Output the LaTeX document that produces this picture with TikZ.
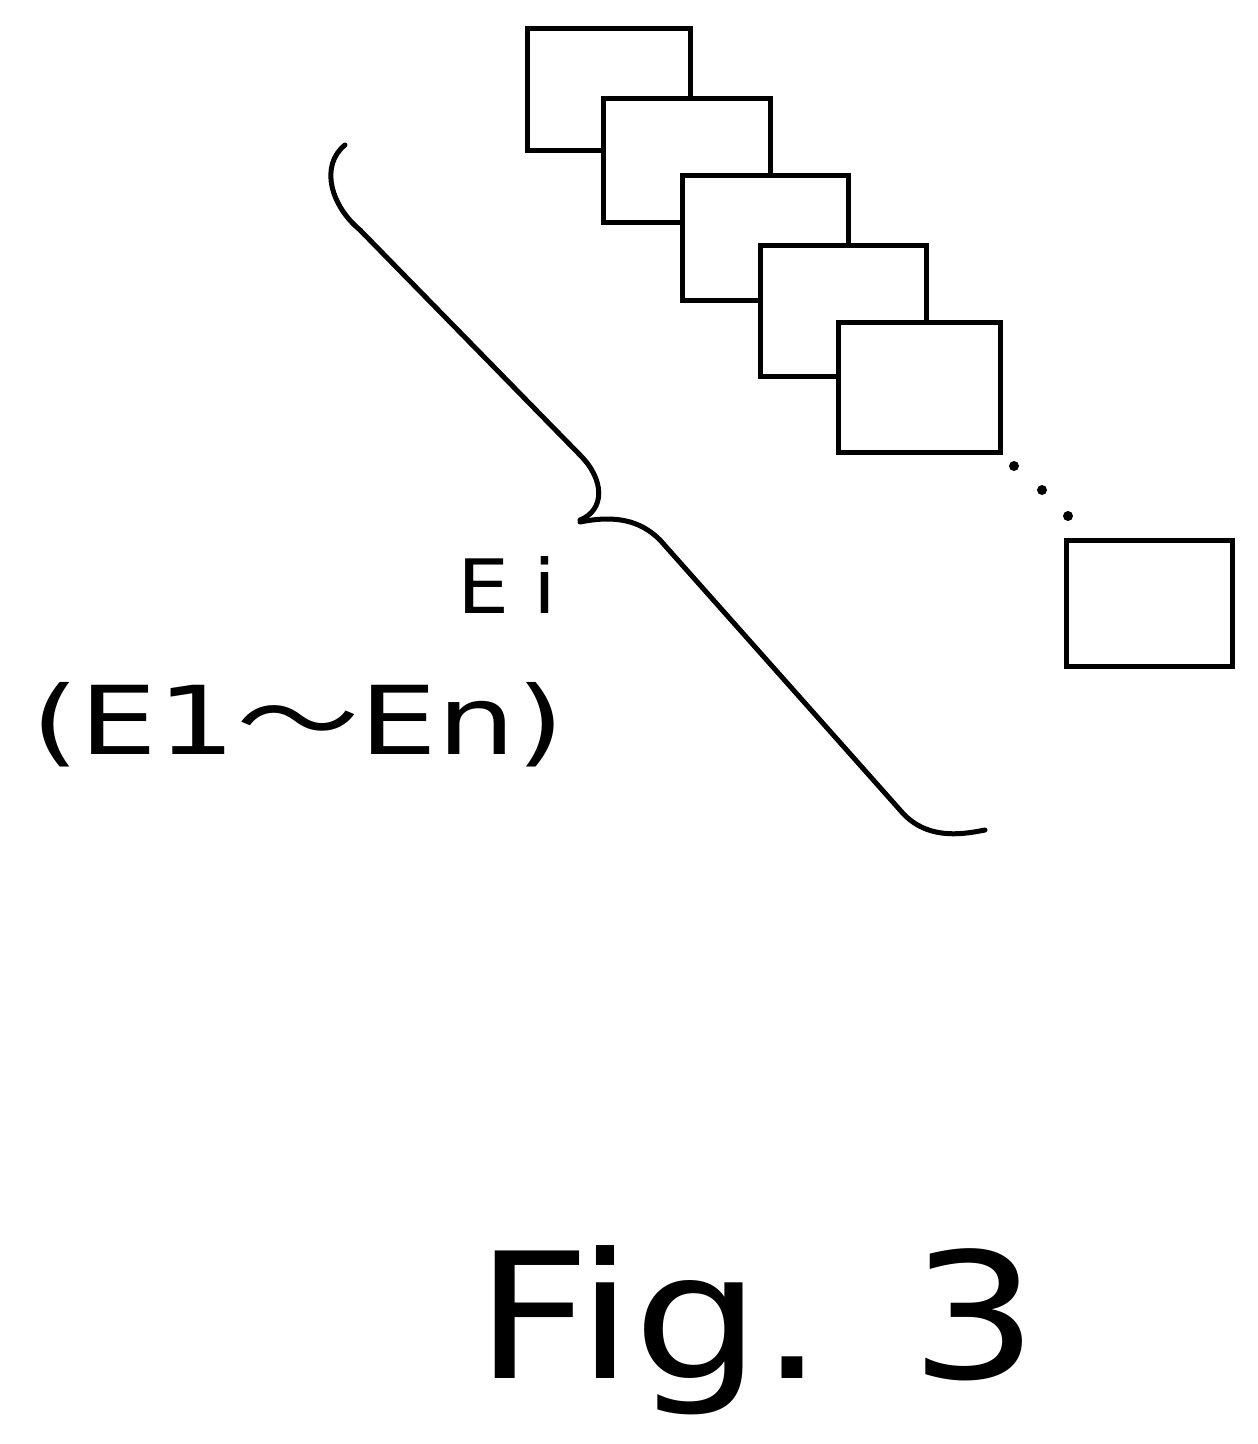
\documentclass[tikz,border=0pt]{standalone}
\usepackage{fontspec}
\setmainfont{DejaVu Sans}
\newfontfamily\cjk{Noto Sans CJK JP}
\begin{document}
\begin{tikzpicture}[x=1pt,y=-1pt,
  bx/.style={draw,line width=5pt,fill=white},
  brc/.style={line width=5pt,line cap=round}]
\useasboundingbox (0,0) rectangle (1258,1444);
\draw[bx] (527,28) rectangle (690,150);
\draw[bx] (603,98) rectangle (770,222);
\draw[bx] (682,175) rectangle (848,300);
\draw[bx] (760,245) rectangle (926,376);
\draw[bx] (838,322) rectangle (1000,452);
\draw[bx] (1066,540) rectangle (1232,666);
\foreach \p in {(1014,466),(1042,490),(1068,516)} \fill \p circle (5);
\draw[brc] (345,145) .. controls (320,165) and (330,205) .. (360,230)
  -- (580,455) .. controls (605,480) and (605,510) .. (580,520);
\draw[brc] (580,522) .. controls (615,515) and (640,520) .. (660,540)
  -- (900,810) .. controls (925,840) and (960,835) .. (985,830);
\node[font=\fontsize{75}{75}\selectfont,xscale=1.1] (ei) at (507,585) {E\kern 22pt i};
\node[font=\fontsize{95}{95}\selectfont,xscale=1.3] (rng) at (298,725) {(E1{\cjk ～}En)};
\node[font=\fontsize{175}{175}\selectfont,xscale=1.15] (fig) at (757,1330) {Fig. 3};
\end{tikzpicture}
\end{document}
